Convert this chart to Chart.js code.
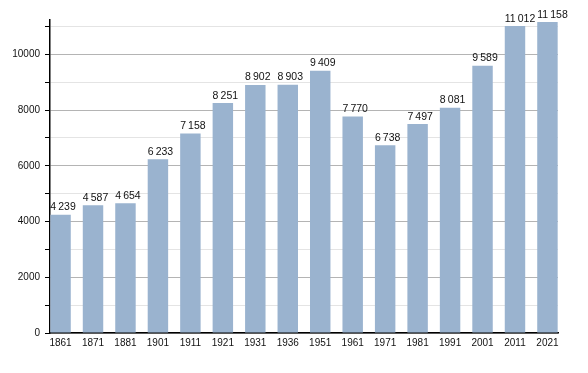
<!DOCTYPE html>
<html>
<head>
<meta charset="utf-8">
<script src="https://cdn.jsdelivr.net/npm/chart.js@4/dist/chart.umd.min.js"></script>
<style>
html,body{margin:0;padding:0;background:#fff;}
#c{display:block;}
</style>
</head>
<body>
<canvas id="c" width="588" height="373"></canvas>
<script>
const years = ["1861","1871","1881","1901","1911","1921","1931","1936","1951","1961","1971","1981","1991","2001","2011","2021"];
const population = [4239,4587,4654,6233,7158,8251,8902,8903,9409,7770,6738,7497,8081,9589,11012,11158];
const yTickValues = [0,1000,2000,3000,4000,5000,6000,7000,8000,9000,10000,11000];

const fmt = v => String(v).replace(/\B(?=(\d{3})+(?!\d))/g, '\u2009');

const labelPlugin = {
  id: 'barLabels',
  afterDatasetsDraw(chart) {
    const ctx = chart.ctx;
    const meta = chart.getDatasetMeta(0);
    ctx.save();
    ctx.font = '10.5px "Liberation Sans", Arial, sans-serif';
    ctx.fillStyle = '#111';
    ctx.textAlign = 'left';
    ctx.textBaseline = 'alphabetic';
    meta.data.forEach((bar, i) => {
      const left = bar.x - bar.width / 2;
      ctx.fillText(fmt(population[i]), left, bar.y - 4.5);
    });
    ctx.restore();
  }
};

new Chart(document.getElementById('c'), {
  type: 'bar',
  data: {
    datasets: [{
      data: population.map((v, i) => ({x: i, y: v})),
      backgroundColor: '#9ab3cf',
      borderWidth: 0,
      barPercentage: 0.63,
      categoryPercentage: 1
    }]
  },
  options: {
    responsive: false,
    animation: false,
    devicePixelRatio: 1,
    layout: {padding: {left: 0, right: 30, top: 20, bottom: 0}},
    plugins: {legend: {display: false}, tooltip: {enabled: false}},
    scales: {
      x: {
        type: 'linear',
        offset: false,
        min: -0.325,
        max: 15.325,
        afterBuildTicks: s => { s.ticks = years.map((_, i) => ({value: i})); },
        afterFit: s => { s.height = 40; },
        grid: {display: false, drawTicks: false, offset: false},
        border: {display: true, color: '#000', width: 1.5},
        ticks: {
          autoSkip: false,
          maxRotation: 0,
          padding: 4,
          color: '#111',
          font: {family: '"Liberation Sans", Arial, sans-serif', size: 10},
          callback: v => years[v] !== undefined ? years[v] : ''
        }
      },
      y: {
        min: 0,
        max: 11230,
        afterBuildTicks: s => { s.ticks = yTickValues.map(v => ({value: v})); },
        afterFit: s => { s.width = 50; },
        grid: {
          color: c => (c.tick && c.tick.value % 2000 === 0) ? '#b4b4b4' : '#e4e4e4',
          tickColor: '#000',
          tickLength: 5,
          lineWidth: 1
        },
        border: {display: true, color: '#000', width: 1.5},
        ticks: {
          padding: 5,
          color: '#111',
          font: {family: '"Liberation Sans", Arial, sans-serif', size: 10},
          callback: v => v % 2000 === 0 ? String(v) : ''
        }
      }
    }
  },
  plugins: [labelPlugin]
});
</script>
</body>
</html>
